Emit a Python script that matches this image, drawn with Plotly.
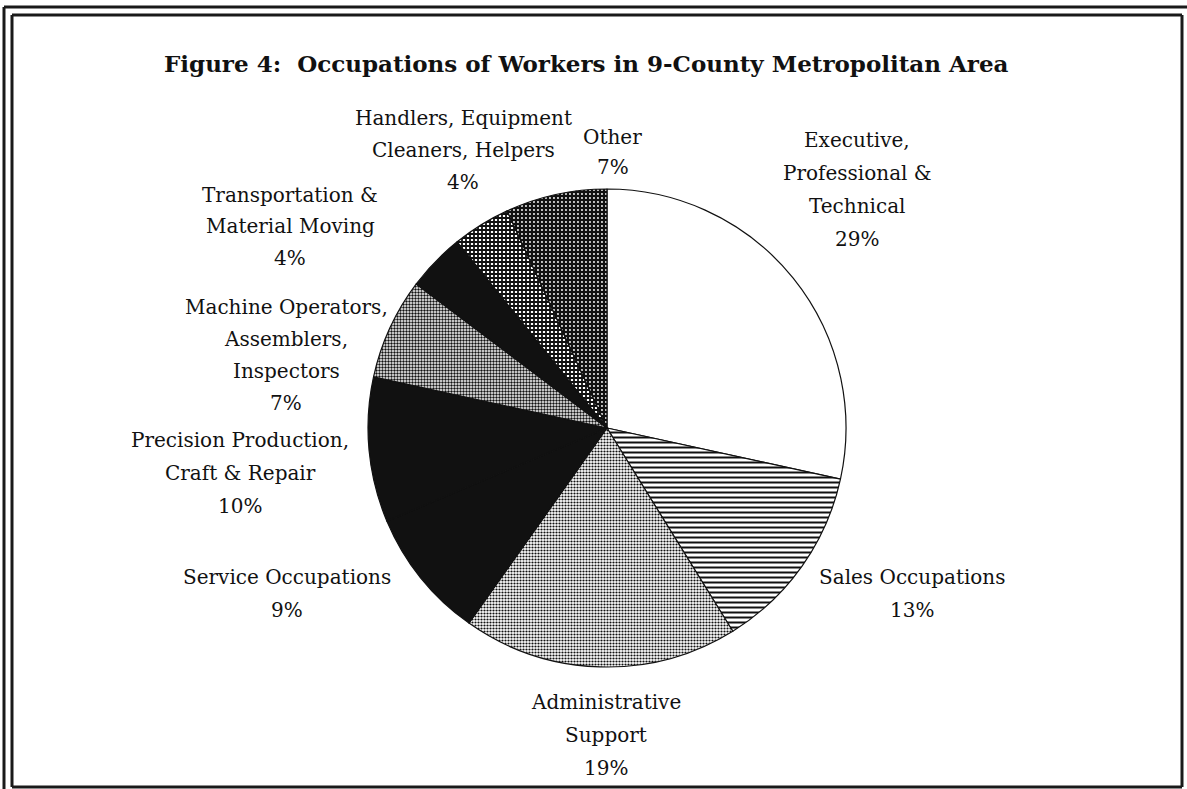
import plotly.graph_objects as go

# ---------------- data ----------------
categories = [
    "Executive,<br>Professional &<br>Technical",
    "Sales Occupations",
    "Administrative<br>Support",
    "Service Occupations",
    "Precision Production,<br>Craft & Repair",
    "Machine Operators,<br>Assemblers,<br>Inspectors",
    "Transportation &<br>Material Moving",
    "Handlers, Equipment<br>Cleaners, Helpers",
    "Other",
]
values = [29, 13, 19, 9, 10, 7, 4, 4, 7]
title_text = "Figure 4:  Occupations of Workers in 9-County Metropolitan Area"

# ---------------- styling ----------------
W, H = 1187, 789
pattern_shapes = ["", "-", ".", "", "", ".", "", "+", "."]
pattern_fg = ["#111111", "#111111", "#111111", "#111111", "#111111", "#111111", "#111111", "#111111", "#ffffff"]
pattern_bg = ["#ffffff", "#ffffff", "#ffffff", "#111111", "#111111", "#ffffff", "#111111", "#ffffff", "#111111"]
pattern_size = [4, 5, 3, 4, 4, 3, 4, 4, 4]
pattern_solid = [0.3, 0.4, 0.42, 0.3, 0.3, 0.5, 0.3, 0.7, 0.18]
slice_colors = ["#ffffff", "#ffffff", "#9a9a9a", "#111111", "#111111", "#9a9a9a", "#111111", "#555555", "#333333"]

# pie geometry in pixels (center, radius)
cx, cy, r = 607, 428, 239

# label layout: (center x px, first-line center y px, line spacing px)
label_pos = [
    (857, 140, 33),
    (912, 577, 33),
    (606, 702, 33),
    (287, 577, 33),
    (240, 440, 33),
    (286, 307, 32),
    (290, 195, 31.5),
    (463, 118, 32),
    (613, 137, 30),
]

FONT = "DejaVu Serif"

fig = go.Figure()
fig.add_trace(go.Pie(
    labels=[c.replace("<br>", " ") for c in categories],
    values=values,
    sort=False,
    direction="clockwise",
    rotation=0,
    textinfo="none",
    showlegend=False,
    marker=dict(
        colors=slice_colors,
        line=dict(color="#111111", width=1.2),
        pattern=dict(
            shape=pattern_shapes,
            fgcolor=pattern_fg,
            bgcolor=pattern_bg,
            size=pattern_size,
            solidity=pattern_solid,
            fillmode="replace",
        ),
    ),
    domain=dict(
        x=[(cx - r) / W, (cx + r) / W],
        y=[1 - (cy + r) / H, 1 - (cy - r) / H],
    ),
))

annotations = []
for cat, val, (lx, ly, sp) in zip(categories, values, label_pos):
    lines = cat.split("<br>") + [f"{val}%"]
    for i, line in enumerate(lines):
        annotations.append(dict(
            text=line, x=lx / W, y=1 - (ly + i * sp) / H,
            xref="paper", yref="paper", xanchor="center", yanchor="middle",
            showarrow=False, font=dict(family=FONT, size=20, color="#111111"),
        ))

annotations.append(dict(
    text=f"<b>{title_text}</b>", x=586 / W, y=1 - 63 / H,
    xref="paper", yref="paper", xanchor="center", yanchor="middle",
    showarrow=False, font=dict(family=FONT, size=23, color="#111111"),
))

def px_line(x0, y0, x1, y1, w):
    return dict(type="line", xref="paper", yref="paper",
                x0=x0 / W, y0=1 - y0 / H, x1=x1 / W, y1=1 - y1 / H,
                line=dict(color="#1a1a1a", width=w))

shapes = [
    px_line(4, 7, W + 5, 7, 3),      # outer top
    px_line(4, 7, 4, H + 5, 3),      # outer left
    px_line(12, 15, 1182, 15, 3),    # inner top
    px_line(12, 15, 12, 787, 3),     # inner left
    px_line(1182, 15, 1182, 787, 3), # inner right
    px_line(12, 787, 1182, 787, 3),  # inner bottom
]

fig.update_layout(
    width=W, height=H,
    margin=dict(l=0, r=0, t=0, b=0),
    paper_bgcolor="white", plot_bgcolor="white",
    annotations=annotations,
    shapes=shapes,
    font=dict(family=FONT),
)

fig.write_html(
    "out.html",
    config={"displayModeBar": False},
    post_script="document.body.style.margin='0';document.body.style.overflow='hidden';",
)
